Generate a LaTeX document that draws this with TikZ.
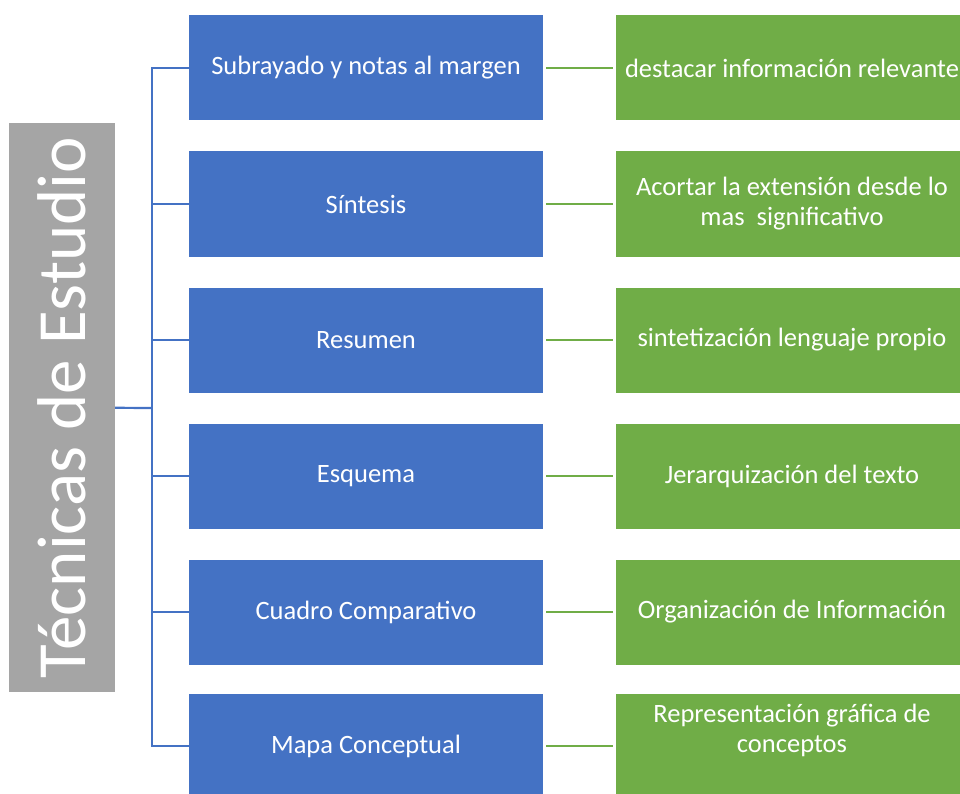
\documentclass[tikz,border=0pt]{standalone}
\usepackage{fontspec}
\setmainfont{Carlito}
\definecolor{tblue}{HTML}{4472C4}
\definecolor{tgreen}{HTML}{70AD47}
\definecolor{tgray}{HTML}{A5A5A5}
\begin{document}
\begin{tikzpicture}[x=1pt,y=-1pt]
\tikzstyle{tec}= [rectangle,fill=tgray,text=white,rotate=90,minimum width=569pt,minimum height=106pt,inner sep=0pt,font=\fontsize{69}{72}\selectfont]
\tikzstyle{tecnica}= [rectangle,fill=tblue,text=white,minimum width=354pt,minimum height=105pt,inner sep=0pt,font=\fontsize{26.5}{30}\selectfont]
\tikzstyle{uso}= [rectangle,fill=tgreen,text=white,minimum width=352pt,minimum height=105pt,inner sep=0pt,align=center,font=\fontsize{26.5}{30}\selectfont]
\tikzstyle{tree}= [tblue,line width=2.2pt]
\tikzstyle{link}= [tgreen,line width=2.2pt,shorten <=3pt,shorten >=3pt]

\useasboundingbox (0,0) rectangle (960,794);

\path
	( 62,407.5) node[tec] (tec) {Técnicas de Estudio}
	(366, 68) node[tecnica] (subr) {Subrayado y notas al margen}
	(366,204) node[tecnica] (sint) {Síntesis}
	(366,340) node[tecnica] (resu) {Resumen}
	(366,476) node[tecnica] (esqu) {Esquema}
	(366,612) node[tecnica] (cuad) {Cuadro Comparativo}
	(366,746) node[tecnica] (mapa) {Mapa Conceptual}
	(792, 68) node[uso] (dest) {destacar información relevante}
	(792,204) node[uso] (acor) {Acortar la extensión desde lo\\mas\ \ significativo}
	(792,340) node[uso] (sinte) {sintetización lenguaje propio}
	(792,476) node[uso] (jera) {Jerarquización del texto}
	(792,612) node[uso] (orga) {Organización de Información}
	(792,746) node[uso,text depth=36pt] (repr) {Representación gráfica de\\conceptos}
;
\coordinate (trunk) at (152,408);
\draw[tree] (tec) -- (trunk);
\draw[tree] (trunk) |- (subr.west);
\draw[tree] (trunk) |- (sint.west);
\draw[tree] (trunk) |- (resu.west);
\draw[tree] (trunk) |- (esqu.west);
\draw[tree] (trunk) |- (cuad.west);
\draw[tree] (trunk) |- (mapa.west);
\draw[link] (subr) -- (dest);
\draw[link] (sint) -- (acor);
\draw[link] (resu) -- (sinte);
\draw[link] (esqu) -- (jera);
\draw[link] (cuad) -- (orga);
\draw[link] (mapa) -- (repr);
\end{tikzpicture}
\end{document}
